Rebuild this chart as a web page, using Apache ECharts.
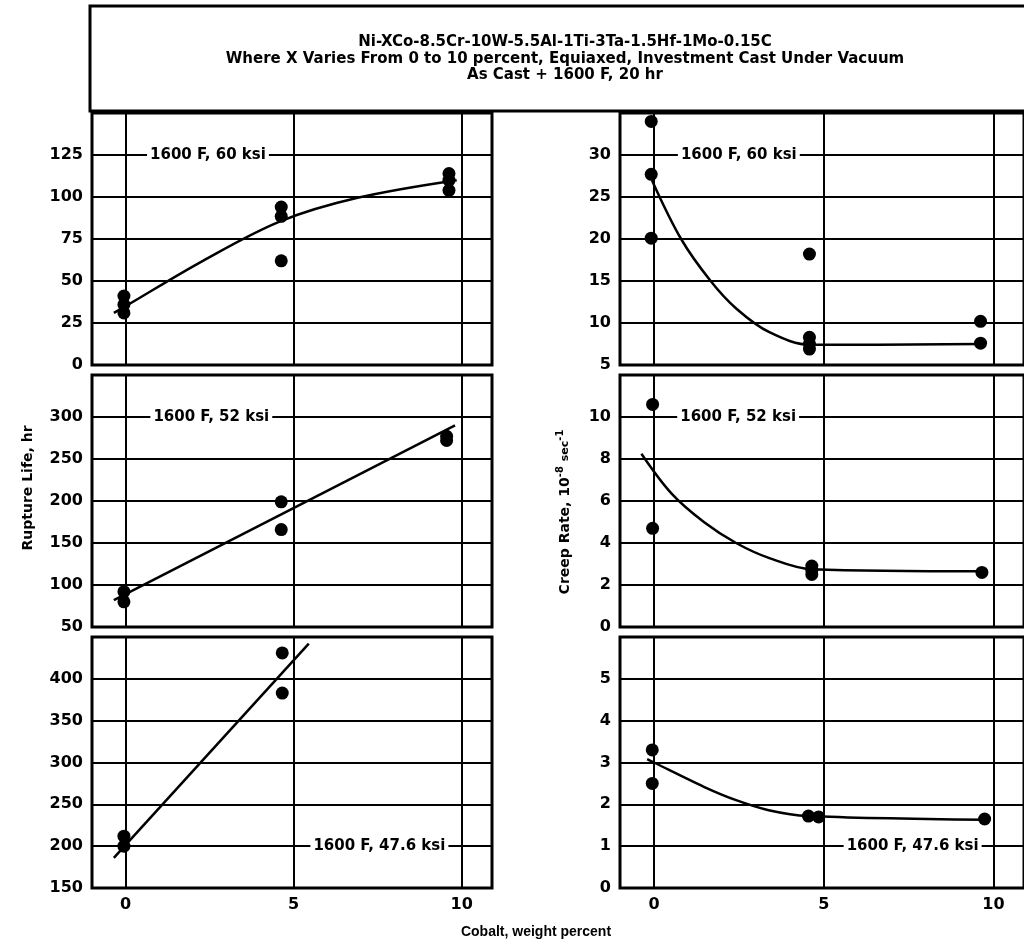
<!DOCTYPE html>
<html>
<head>
<meta charset="utf-8">
<script src="https://cdn.jsdelivr.net/npm/echarts@6/dist/echarts.min.js"></script>
<style>
html,body{margin:0;padding:0;background:#fff;}
#chart{width:1024px;height:944px;}
</style>
</head>
<body>
<div id="chart"></div>
<script>
// ---------- data ----------
const titleLines = [
  'Ni-XCo-8.5Cr-10W-5.5Al-1Ti-3Ta-1.5Hf-1Mo-0.15C',
  'Where X Varies From 0 to 10 percent, Equiaxed, Investment Cast Under Vacuum',
  'As Cast + 1600 F, 20 hr'
];
const xTicks = [0, 5, 10];
const xName = 'Cobalt, weight percent';
const leftName = 'Rupture Life, hr';

const conditions = ['1600 F, 60 ksi', '1600 F, 52 ksi', '1600 F, 47.6 ksi'];

// rupture life, hr
const rupture60Pts = [[-0.05,41],[-0.05,36],[-0.05,31],[4.63,94],[4.63,88.5],[4.63,62],[9.62,114],[9.62,110],[9.62,104]];
const rupture60Fit = [[-0.35,31],[0,35],[2.3,62],[4.6,85.5],[6.9,99.5],[9.85,110]];
const rupture52Pts = [[-0.05,92],[-0.05,80],[4.63,199],[4.63,166],[9.55,277],[9.55,272]];
const rupture52Fit = [[-0.35,82],[9.8,290]];
const rupture476Pts = [[-0.05,212],[-0.05,200],[4.66,431],[4.66,383]];
const rupture476Fit = [[-0.35,186],[5.45,442]];

// creep rate, 1e-8 /sec
const creep60Pts = [[-0.08,34],[-0.08,27.7],[-0.08,20.1],[4.58,18.2],[4.58,8.3],[4.58,7.5],[4.58,6.9],[9.62,10.2],[9.62,7.6]];
const creep60Fit = [[-0.06,27],[0.8,20],[1.67,15],[2.43,11.7],[3.4,8.9],[4.63,7.4],[9.6,7.5]];
const creep52Pts = [[-0.04,10.6],[-0.04,4.7],[4.65,2.9],[4.65,2.7],[4.65,2.5],[9.66,2.6]];
const creep52Fit = [[-0.37,8.25],[0.52,6.35],[1.47,5.0],[2.42,4.0],[3.4,3.28],[4.65,2.75],[9.66,2.65]];
const creep476Pts = [[-0.05,3.3],[-0.05,2.5],[4.55,1.72],[4.85,1.7],[9.74,1.65]];
const creep476Fit = [[-0.2,3.08],[0,3.0],[1.47,2.42],[2.42,2.1],[3.38,1.86],[4.53,1.72],[9.74,1.63]];

// axis ranges
const leftRanges  = [[0,150,25],[50,350,50],[150,450,50]];
const rightRanges = [[5,35,5],[0,12,2],[0,6,1]];

// ---------- layout ----------
const FONT = 'DejaVu Sans';
const rowTops = [113, 375, 637];
const rowH = [252, 252, 251];
const cols = [{left:92, width:400}, {left:620, width:415}];
const labelPos = [
  [[2.45,125],[2.55,300],[7.55,200]],
  [[2.5,30],[2.48,10],[7.62,1]]
];
const panels = [
  [[rupture60Pts, rupture60Fit],[rupture52Pts, rupture52Fit],[rupture476Pts, rupture476Fit]],
  [[creep60Pts, creep60Fit],[creep52Pts, creep52Fit],[creep476Pts, creep476Fit]]
];
const smoothness = [[0.35,0,0],[0.35,0.35,0.3]];

const grids = [], xAxes = [], yAxes = [], series = [];
let idx = 0;
for (let c = 0; c < 2; c++) {
  for (let r = 0; r < 3; r++) {
    grids.push({left: cols[c].left, width: cols[c].width, top: rowTops[r], height: rowH[r],
      show: true, borderColor: '#000', borderWidth: 3, backgroundColor: '#fff', containLabel: false});
    xAxes.push({type: 'value', gridIndex: idx, min: -1, max: 10.9,
      axisLine: {show: false}, axisTick: {show: false}, splitLine: {show: false},
      axisLabel: {show: r === 2, customValues: xTicks, margin: 9,
        color: '#000', fontFamily: FONT, fontWeight: 'bold', fontSize: 16}});
    const rg = c === 0 ? leftRanges[r] : rightRanges[r];
    yAxes.push({type: 'value', gridIndex: idx, min: rg[0], max: rg[1], interval: rg[2],
      axisLine: {show: false}, axisTick: {show: false},
      splitLine: {show: true, lineStyle: {color: '#000', width: 2}},
      axisLabel: {showMaxLabel: false, margin: 9, color: '#000', fontFamily: FONT, fontWeight: 'bold', fontSize: 16}});
    const [pts, fit] = panels[c][r];
    series.push({type: 'line', xAxisIndex: idx, yAxisIndex: idx, data: fit,
      smooth: smoothness[c][r], showSymbol: false, symbol: 'none', silent: true,
      lineStyle: {color: '#000', width: 2.5}, z: 3,
      markLine: {silent: true, symbol: ['none','none'], label: {show: false},
        lineStyle: {color: '#000', width: 2, type: 'solid'},
        data: xTicks.map(v => ({xAxis: v})), z: 1},
      markPoint: {symbol: 'rect', symbolSize: 0, silent: true,
        data: [{coord: labelPos[c][r], value: conditions[r]}],
        label: {show: true, position: 'inside', formatter: conditions[r],
          color: '#000', fontFamily: FONT, fontWeight: 'bold', fontSize: 15,
          backgroundColor: '#fff', padding: [1, 3]}}
    });
    series.push({type: 'scatter', xAxisIndex: idx, yAxisIndex: idx, data: pts,
      symbol: 'circle', symbolSize: 13, itemStyle: {color: '#000', opacity: 1}, z: 4, silent: true});
    idx++;
  }
}

const chart = echarts.init(document.getElementById('chart'), null, {renderer: 'canvas'});
chart.setOption({
  backgroundColor: '#fff',
  animation: false,
  title: {text: titleLines.join('\n'), left: 560, top: 29, textAlign: 'center',
    textStyle: {fontFamily: FONT, fontWeight: 'bold', fontSize: 15, lineHeight: 16.5, color: '#000'}},
  grid: grids, xAxis: xAxes, yAxis: yAxes, series: series,
  graphic: [
    {type: 'rect', shape: {x: 90, y: 6, width: 960, height: 105}, style: {fill: 'none', stroke: '#000', lineWidth: 3}, z: 10},
    {type: 'text', x: 28, y: 488, rotation: Math.PI / 2,
      style: {text: leftName, fontFamily: FONT, fontWeight: 'bold', fontSize: 14, fill: '#000', align: 'center', verticalAlign: 'middle'}},
    {type: 'text', x: 565, y: 512, rotation: Math.PI / 2,
      style: {text: 'Creep Rate, 10{sup|-8} {sm|sec}{sup|-1}', fontFamily: FONT, fontWeight: 'bold', fontSize: 14, fill: '#000', align: 'center', verticalAlign: 'middle',
        rich: {sup: {fontSize: 10, fontFamily: FONT, fontWeight: 'bold', fill: '#000', padding: [0,0,10,0]},
               sm: {fontSize: 11, fontFamily: FONT, fontWeight: 'bold', fill: '#000'}}}},
    {type: 'text', x: 536, y: 932,
      style: {text: xName, fontFamily: 'Liberation Sans', fontWeight: 'bold', fontSize: 14, fill: '#000', align: 'center', verticalAlign: 'middle'}}
  ]
});
</script>
</body>
</html>
